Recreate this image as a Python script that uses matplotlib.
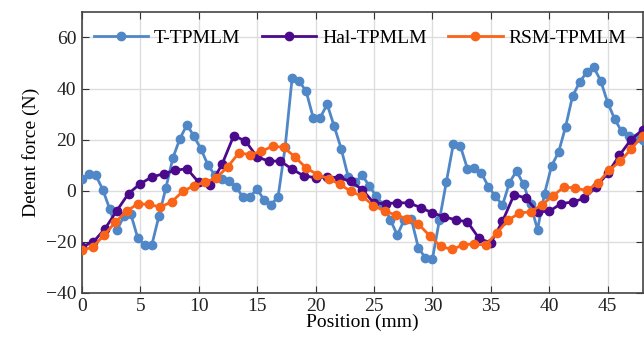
import numpy as np
import matplotlib
matplotlib.use('Agg')
import matplotlib.pyplot as plt

plt.rcParams['font.family'] = ['Liberation Serif', 'DejaVu Serif']
plt.rcParams['font.size'] = 14

# T-TPMLM sampled every 0.6 mm
t_pos = np.linspace(0, 48, 81)
t_force = [4.5, 6.7, 6.0, 0.4, -7.3, -15.5, -10.0, -9.2, -18.7, -21.4,
           -21.1, -10.0, 1.2, 12.9, 20.4, 25.8, 21.3, 16.3, 10.0, 6.0,
           4.5, 3.9, 1.5, -2.6, -2.3, 0.6, -3.6, -5.5, -2.3, 17.0,
           44.2, 42.9, 38.9, 28.6, 28.6, 33.8, 25.2, 16.4, 5.4, 3.5,
           6.0, 1.9, -2.2, -5.5, -11.3, -17.4, -11.3, -11.1, -22.3, -26.3,
           -26.8, -11.6, 3.5, 18.4, 17.4, 8.6, 8.9, 6.9, 1.5, -2.2,
           -5.7, 3.2, 7.7, 2.5, -5.4, -15.2, -1.1, 9.7, 15.1, 25.0,
           37.1, 42.4, 46.4, 48.4, 43.1, 34.5, 28.0, 23.2, 21.4, 20.6,
           20.0]

# Hal-TPMLM sampled every 1 mm
hal_pos = np.arange(0, 49)
hal_force = [-22.0, -20.0, -14.8, -7.8, -1.1, 2.7, 5.4, 6.6, 8.0, 8.6,
             3.3, 2.2, 10.3, 21.5, 19.5, 13.2, 11.6, 11.6, 8.4, 5.8,
             5.1, 5.4, 5.1, 3.7, 0.4, -4.8, -5.1, -4.7, -4.8, -6.6,
             -8.7, -10.2, -11.4, -12.2, -18.7, -20.4, -12.0, -1.5, -2.9, -8.2,
             -8.1, -5.1, -4.4, -3.0, 1.4, 6.8, 13.8, 20.0, 23.9]

# RSM-TPMLM sampled every 0.96 mm
rsm_pos = np.linspace(0, 48, 51)
rsm_force = [-23.4, -22.0, -17.3, -12.3, -8.0, -5.1, -5.4, -6.4, -4.4, -0.3,
             2.0, 3.3, 5.1, 9.3, 14.8, 14.1, 15.4, 17.4, 17.0, 13.2,
             8.9, 6.3, 4.7, 2.5, -0.3, -2.2, -5.8, -8.0, -9.5, -11.0,
             -13.0, -17.6, -21.8, -23.0, -21.2, -20.8, -21.3, -16.5, -11.5, -8.8,
             -8.2, -5.6, -2.0, 1.5, 1.0, 0.1, 3.0, 8.0, 11.5, 16.5,
             21.5]

fig = plt.figure(figsize=(6.44, 3.39), dpi=100)
ax = fig.add_axes([0.127, 0.136, 0.871, 0.829])

ax.plot(t_pos, t_force, '-o', color='#4f87c7', lw=2, ms=6, label='T-TPMLM', zorder=3)
ax.plot(hal_pos, hal_force, '-o', color='#4b0a8c', lw=2, ms=6, label='Hal-TPMLM', zorder=3)
ax.plot(rsm_pos, rsm_force, '-o', color='#fa6418', lw=2, ms=6, label='RSM-TPMLM', zorder=3)

ax.set_xlim(0, 48)
ax.set_ylim(-40, 70)
ax.set_xticks(range(0, 50, 5))
ax.set_yticks(range(-40, 61, 20))
ax.grid(True, color='#dddddd', lw=1)
ax.tick_params(direction='in', top=True, right=True, colors='#333333', labelcolor='#222222',
               length=5, pad=4)
for s in ax.spines.values():
    s.set_color('#444444')
    s.set_linewidth(1.2)

ax.set_xlabel('Position (mm)', labelpad=-1)
ax.set_ylabel('Detent force (N)', labelpad=4)

ax.legend(loc='center', bbox_to_anchor=(0.496, 0.908), ncol=3, frameon=False,
          handlelength=2.8, handletextpad=0.3, columnspacing=1.1, fontsize=14)

fig.savefig('out.png', dpi=100)
